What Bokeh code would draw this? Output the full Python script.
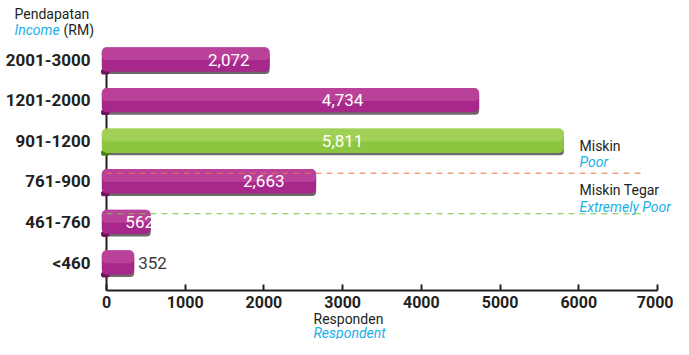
from bokeh.plotting import figure
from bokeh.models import Range1d, FixedTicker, Label
from bokeh.core.properties import value
from bokeh.embed import file_html
from bokeh.resources import INLINE

# ---- data ----
categories = ["<460", "461-760", "761-900", "901-1200", "1201-2000", "2001-3000"]
respondents = [352, 562, 2663, 5811, 4734, 2072]
highlighted = [False, False, False, True, False, False]
x_ticks = [0, 1000, 2000, 3000, 4000, 5000, 6000, 7000]
poor_threshold_row = 2        # line drawn above "761-900"
extreme_threshold_row = 1     # line drawn above "461-760"
threshold_line_end = 6850

FONT = "Roboto"
DARK = "#231f20"
CYAN = "#1ab0e8"
MAGENTA = "#a8278a"
MAGENTA_LIGHT = "#c657a8"
MAGENTA_DARK = "#6e1559"
GREEN = "#8cc63f"
GREEN_LIGHT = "#b2d96a"
GREEN_DARK = "#4f7d1c"

W, H = 673, 339
S = (657 - 106) / 7000.0           # px per respondent
X0, X1 = -106 / S, (W - 106) / S
ROW = 40.6                          # px per category row
Y0, Y1 = -(H - 262) / ROW, 5 + 59 / ROW
AXIS_Y = -28 / ROW

idx = list(range(len(categories)))
fill = [GREEN if h else MAGENTA for h in highlighted]
fill_light = [GREEN_LIGHT if h else MAGENTA_LIGHT for h in highlighted]
fill_dark = [GREEN_DARK if h else MAGENTA_DARK for h in highlighted]

p = figure(width=W, height=H,
           x_range=Range1d(X0, X1), y_range=Range1d(Y0, Y1),
           output_backend="svg", toolbar_location=None,
           min_border_left=0, min_border_right=0,
           min_border_top=0, min_border_bottom=0)
p.outline_line_color = None
p.xgrid.visible = False
p.ygrid.visible = False

# x axis
xa = p.xaxis[0]
xa.fixed_location = AXIS_Y
xa.ticker = FixedTicker(ticks=x_ticks)
xa.minor_tick_line_color = None
xa.bounds = (0, 7000)
xa.axis_line_width = 2
xa.axis_line_color = DARK
xa.major_tick_in = 6
xa.major_tick_out = 0
xa.major_tick_line_width = 2
xa.major_tick_line_color = DARK
xa.major_label_text_font = FONT
xa.major_label_text_font_style = "bold"
xa.major_label_text_font_size = "16px"
xa.major_label_text_color = DARK
xa.major_label_standoff = 5

# y axis
ya = p.yaxis[0]
ya.fixed_location = 0
ya.level = "underlay"
ya.bounds = (AXIS_Y, len(categories) - 1)
ya.ticker = FixedTicker(ticks=idx)
ya.major_label_overrides = {i: c for i, c in zip(idx, categories)}
ya.axis_line_color = DARK
ya.axis_line_width = 2
ya.major_tick_line_color = None
ya.minor_tick_line_color = None
ya.major_label_text_font = FONT
ya.major_label_text_font_style = "bold"
ya.major_label_text_font_size = "17px"
ya.major_label_text_color = DARK
ya.major_label_standoff = 10

# bar shadows
p.hbar(y=[i - 0.08 for i in idx], left=0, right=respondents, height=0.56,
       fill_color="#3a3a3a", fill_alpha=0.75, line_color=None, border_radius=4)
# curl under left end
p.hbar(y=[i - 0.3 for i in idx], left=-70, right=40, height=0.14,
       fill_color=fill_dark, line_color=None, border_radius=3)
# main bars
p.hbar(y=idx, left=-60, right=respondents, height=0.6,
       fill_color=fill, line_color=None, border_radius=5)
# top highlight
p.hbar(y=[i + 0.14 for i in idx], left=-60, right=respondents, height=0.32,
       fill_color=fill_light, fill_alpha=0.55, line_color=None, border_radius=5)

# value labels
inside_x, inside_y, inside_t = [], [], []
out_x, out_y, out_t = [], [], []
for i, v in zip(idx, respondents):
    if v > 500:
        inside_x.append(min(0.75 * v, 3000)); inside_y.append(i); inside_t.append(f"{v:,}")
    else:
        out_x.append(v + 50); out_y.append(i); out_t.append(f"{v:,}")
p.text(x=inside_x, y=inside_y, text=inside_t, text_align="center", text_baseline="middle",
       text_color="#ffffff", text_font=value(FONT), text_font_size="17px")
p.text(x=out_x, y=out_y, text=out_t, text_align="left", text_baseline="middle",
       text_color="#3a3a3a", text_font=value(FONT), text_font_size="17px")

# threshold lines
p.segment(x0=[0], y0=[poor_threshold_row + 0.2], x1=[threshold_line_end], y1=[poor_threshold_row + 0.2],
          line_color="#e8734a", line_width=1, line_dash="6 5")
p.segment(x0=[0], y0=[extreme_threshold_row + 0.2], x1=[threshold_line_end], y1=[extreme_threshold_row + 0.2],
          line_color="#7cc242", line_width=1, line_dash="6 5")

def lab(text, x, y, color=DARK, style="normal", size="14px", align="left"):
    p.add_layout(Label(x=x, y=y, x_units="screen", y_units="screen", text=text,
                       text_font=FONT, text_font_size=size, text_color=color,
                       text_font_style=style, text_align=align, text_baseline="middle"))

lab("Miskin", 579, 194)
lab("Poor", 579, 178, CYAN, "italic")
lab("Miskin Tegar", 579, 150)
lab("Extremely Poor", 579, 133, CYAN, "italic")

lab("Pendapatan", 14, 326)
lab("Income", 14, 310, CYAN, "italic")
lab("(RM)", 63, 310)

lab("Responden", 313, 21)
lab("Respondent", 313, 7, CYAN, "italic")

open("out.html", "w").write(file_html(p, INLINE))
